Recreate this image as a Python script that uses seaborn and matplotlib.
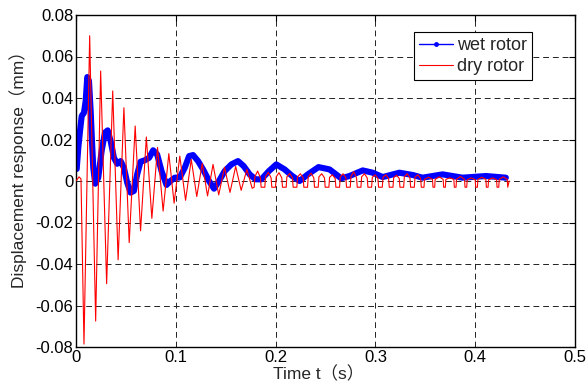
import matplotlib
matplotlib.use("Agg")
import matplotlib.pyplot as plt
from matplotlib.lines import Line2D
import seaborn as sns
import pandas as pd

# ---------------- data ----------------
wet_t = [0.0007, 0.0023, 0.0040, 0.0057, 0.0080, 0.0097, 0.0113, 0.0130, 0.0147, 0.0160,
         0.0173, 0.0193, 0.0223, 0.0257, 0.0290, 0.0317, 0.0347, 0.0380, 0.0413, 0.0447,
         0.0480, 0.0513, 0.0547, 0.0580, 0.0613, 0.0647, 0.0690, 0.0733, 0.0773, 0.0813,
         0.0857, 0.0907, 0.0947, 0.0990, 0.1040, 0.1090, 0.1133, 0.1173, 0.1223, 0.1273,
         0.1333, 0.1383, 0.1433, 0.1490, 0.1557, 0.1623, 0.1680, 0.1740, 0.1800, 0.1857,
         0.1933, 0.2007, 0.2090, 0.2167, 0.2240, 0.2323, 0.2430, 0.2540, 0.2657, 0.2740,
         0.2873, 0.2973, 0.3073, 0.3240, 0.3373, 0.3473, 0.3673, 0.3873, 0.4107, 0.4307]
wet_v = [0.0058, 0.0160, 0.0240, 0.0313, 0.0329, 0.0386, 0.0501, 0.0482, 0.0337, 0.0193,
         0.0064, -0.0013, 0.0016, 0.0145, 0.0233, 0.0244, 0.0193, 0.0112, 0.0083, 0.0096,
         0.0064, -0.0008, -0.0056, -0.0048, 0.0032, 0.0093, 0.0100, 0.0112, 0.0148, 0.0128,
         0.0048, -0.0019, 0.0000, 0.0016, 0.0017, 0.0064, 0.0120, 0.0125, 0.0096, 0.0056,
         0.0000, -0.0037, 0.0000, 0.0048, 0.0080, 0.0096, 0.0072, 0.0032, 0.0008, 0.0008,
         0.0048, 0.0080, 0.0056, 0.0024, 0.0000, 0.0032, 0.0067, 0.0056, 0.0013, 0.0024,
         0.0051, 0.0040, 0.0019, 0.0040, 0.0029, 0.0016, 0.0032, 0.0016, 0.0024, 0.0016]

dry_t = [0.0000, 0.0030, 0.0050, 0.0080, 0.0137, 0.0197, 0.0247, 0.0307, 0.0368, 0.0422,
         0.0480, 0.0533, 0.0593, 0.0647, 0.0705, 0.0760, 0.0817, 0.0873, 0.0930, 0.0983,
         0.1040, 0.1098, 0.1155, 0.1210, 0.1265, 0.1318, 0.1373, 0.1430, 0.1488, 0.1543,
         0.1600, 0.1655, 0.1712, 0.1765,
         0.1785, 0.1792, 0.1820, 0.1848, 0.1855,
         0.1892, 0.1899, 0.1927, 0.1955, 0.1962,
         0.1999, 0.2006, 0.2034, 0.2062, 0.2069,
         0.2106, 0.2113, 0.2141, 0.2169, 0.2176,
         0.2213, 0.2220, 0.2248, 0.2276, 0.2283,
         0.2320, 0.2327, 0.2355, 0.2383, 0.2390,
         0.2427, 0.2434, 0.2462, 0.2490, 0.2497,
         0.2534, 0.2541, 0.2569, 0.2597, 0.2604,
         0.2641, 0.2648, 0.2676, 0.2704, 0.2711,
         0.2748, 0.2755, 0.2783, 0.2811, 0.2818,
         0.2855, 0.2862, 0.2890, 0.2918, 0.2925,
         0.2962, 0.2969, 0.2997, 0.3025, 0.3032,
         0.3069, 0.3076, 0.3104, 0.3132, 0.3139,
         0.3176, 0.3183, 0.3211, 0.3239, 0.3246,
         0.3283, 0.3290, 0.3318, 0.3346, 0.3353,
         0.3390, 0.3397, 0.3425, 0.3453, 0.3460,
         0.3487, 0.3492, 0.3532, 0.3572, 0.3577,
         0.3594, 0.3599, 0.3639, 0.3679, 0.3684,
         0.3701, 0.3706, 0.3746, 0.3786, 0.3791,
         0.3808, 0.3813, 0.3853, 0.3893, 0.3898,
         0.3915, 0.3920, 0.3960, 0.4000, 0.4005,
         0.4022, 0.4027, 0.4067, 0.4107, 0.4112,
         0.4129, 0.4134, 0.4174, 0.4214, 0.4219,
         0.4236, 0.4241, 0.4281, 0.4321, 0.4326,
         0.4340]
dry_v = [0.0000, 0.0020, 0.0010, -0.0786, 0.0700, -0.0675, 0.0530, -0.0495, 0.0434, -0.0380,
         0.0353, -0.0297, 0.0265, -0.0240, 0.0212, -0.0180, 0.0162, -0.0145, 0.0132, -0.0107,
         0.0120, -0.0093, 0.0104, -0.0075, 0.0085, -0.0072, 0.0080, -0.0067, 0.0066, -0.0055,
         0.0070, -0.0045, 0.0056, -0.0035,
         -0.0030, 0.0020, 0.0048, 0.0015, -0.0030,
         -0.0030, 0.0020, 0.0042, 0.0015, -0.0030,
         -0.0030, 0.0020, 0.0040, 0.0015, -0.0030,
         -0.0030, 0.0020, 0.0036, 0.0015, -0.0030,
         -0.0030, 0.0020, 0.0035, 0.0015, -0.0030,
         -0.0030, 0.0020, 0.0038, 0.0015, -0.0030,
         -0.0030, 0.0020, 0.0035, 0.0015, -0.0030,
         -0.0030, 0.0018, 0.0030, 0.0012, -0.0030,
         -0.0030, 0.0020, 0.0035, 0.0015, -0.0030,
         -0.0030, 0.0022, 0.0045, 0.0015, -0.0030,
         -0.0030, 0.0020, 0.0035, 0.0015, -0.0030,
         -0.0030, 0.0018, 0.0030, 0.0012, -0.0030,
         -0.0030, 0.0018, 0.0030, 0.0012, -0.0030,
         -0.0030, 0.0016, 0.0028, 0.0012, -0.0030,
         -0.0030, 0.0020, 0.0035, 0.0015, -0.0030,
         -0.0030, 0.0018, 0.0030, 0.0012, -0.0030,
         -0.0030, 0.0008, 0.0018, 0.0008, -0.0030,
         -0.0030, 0.0008, 0.0020, 0.0008, -0.0030,
         -0.0030, 0.0008, 0.0015, 0.0008, -0.0030,
         -0.0030, 0.0008, 0.0022, 0.0008, -0.0030,
         -0.0030, 0.0006, 0.0015, 0.0006, -0.0030,
         -0.0030, 0.0008, 0.0018, 0.0008, -0.0030,
         -0.0030, 0.0006, 0.0015, 0.0006, -0.0030,
         -0.0030, 0.0008, 0.0020, 0.0008, -0.0030,
         0.0000]

x_ticks = [0.0, 0.1, 0.2, 0.3, 0.4, 0.5]
x_tick_labels = ["0", "0.1", "0.2", "0.3", "0.4", "0.5"]
y_ticks = [-0.08, -0.06, -0.04, -0.02, 0.0, 0.02, 0.04, 0.06, 0.08]
y_tick_labels = ["-0.08", "-0.06", "-0.04", "-0.02", "0", "0.02", "0.04", "0.06", "0.08"]
series_names = ["wet rotor", "dry rotor"]
x_label = "Time t（s）"
y_label = "Displacement response（mm）"

# ---------------- style ----------------
sns.set_style("white")
plt.rcParams["font.family"] = ["Liberation Sans", "Noto Sans CJK SC", "DejaVu Sans"]
plt.rcParams["font.size"] = 12

fig = plt.figure(figsize=(5.88, 3.84), dpi=100)
ax = fig.add_axes([76 / 588, 1 - 347 / 384, 499 / 588, 332 / 384])

wet_df = pd.DataFrame({"t": wet_t, "v": wet_v})
dry_df = pd.DataFrame({"t": dry_t, "v": dry_v})

sns.lineplot(data=dry_df, x="t", y="v", sort=False, estimator=None, ax=ax,
             color="#ff0000", linewidth=0.8, zorder=3)
sns.lineplot(data=wet_df, x="t", y="v", sort=False, estimator=None, ax=ax,
             color="#0000ff", linewidth=4.4, zorder=2, solid_capstyle="round",
             solid_joinstyle="round")

ax.set_xlim(0, 0.5)
ax.set_ylim(-0.08, 0.08)
ax.set_xticks(x_ticks)
ax.set_xticklabels(x_tick_labels)
ax.set_yticks(y_ticks)
ax.set_yticklabels(y_tick_labels)
ax.tick_params(direction="in", length=4, width=0.8, top=True, right=True,
               labelsize=12, colors="black")
ax.tick_params(axis="x", pad=2)
ax.tick_params(axis="y", pad=2)
ax.grid(True, color="#222222", linestyle=(0, (6, 4)), linewidth=0.7)
for s in ax.spines.values():
    s.set_color("black")
    s.set_linewidth(1.0)
    s.set_visible(True)

ax.set_xlabel(x_label, fontsize=12.5)
ax.set_ylabel(y_label, fontsize=12.5)
ax.xaxis.set_label_coords(0.486, -0.058)
ax.yaxis.set_label_coords(-0.098, 0.548)

handles = [Line2D([0], [0], color="#0000ff", linewidth=1.0, marker=".", markersize=5),
           Line2D([0], [0], color="#ff0000", linewidth=0.8)]
leg = ax.legend(handles, series_names, loc="upper right", bbox_to_anchor=(0.914, 0.949),
                frameon=True, fancybox=False, edgecolor="black", framealpha=1,
                fontsize=13, handlelength=1.85, handletextpad=0.22, borderpad=0.3,
                labelspacing=0.2, borderaxespad=0)
leg.get_frame().set_linewidth(0.8)

fig.savefig("out.png", dpi=100)
